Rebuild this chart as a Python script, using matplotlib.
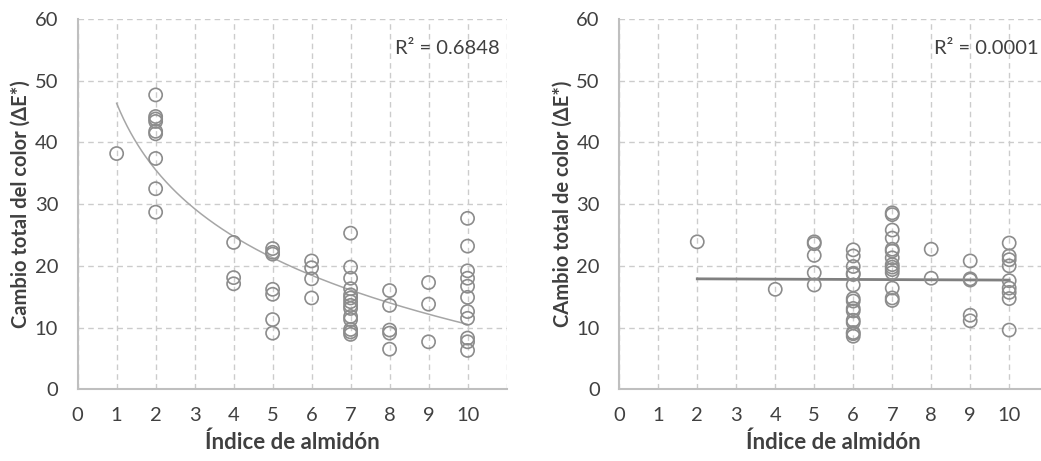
import numpy as np
import matplotlib
matplotlib.use("Agg")
import matplotlib.pyplot as plt

plt.rcParams['font.family'] = ['Lato', 'DejaVu Sans']

# panel 1: starch index vs total colour change
x_left = [1,
          2, 2, 2, 2, 2, 2, 2, 2, 2,
          4, 4, 4,
          5, 5, 5, 5, 5, 5, 5,
          6, 6, 6, 6,
          7, 7, 7, 7, 7, 7, 7, 7, 7, 7, 7, 7, 7, 7,
          8, 8, 8, 8, 8,
          9, 9, 9,
          10, 10, 10, 10, 10, 10, 10, 10, 10, 10, 10]
y_left = [38.2,
          47.7, 44.2, 43.8, 43.4, 41.8, 41.4, 37.4, 32.5, 28.7,
          23.8, 18.1, 17.1,
          22.8, 22.2, 21.9, 16.2, 15.4, 11.3, 9.1,
          20.8, 19.7, 17.9, 14.8,
          25.3, 19.8, 18.0, 16.3, 15.3, 14.8, 14.2, 13.6, 13.1, 11.8, 11.3, 9.7, 9.3, 8.9,
          16.0, 13.6, 9.6, 9.1, 6.5,
          17.3, 13.8, 7.7,
          27.7, 23.2, 19.2, 18.0, 16.7, 14.9, 12.6, 11.5, 8.3, 7.7, 6.3]

# panel 2
x_right = [2,
           4,
           5, 5, 5, 5, 5,
           6, 6, 6, 6, 6, 6, 6, 6, 6, 6, 6, 6, 6, 6, 6,
           7, 7, 7, 7, 7, 7, 7, 7, 7, 7, 7, 7, 7, 7,
           8, 8,
           9, 9, 9, 9, 9,
           10, 10, 10, 10, 10, 10, 10, 10, 10]
y_right = [23.9,
           16.2,
           23.9, 23.6, 21.7, 18.9, 16.9,
           22.6, 21.6, 19.9, 18.8, 18.6, 16.9, 14.7, 14.3, 13.1, 12.7, 11.2, 10.8, 9.2, 9.0, 8.6,
           28.6, 28.3, 25.8, 24.5, 22.7, 22.4, 21.3, 20.2, 19.8, 19.4, 18.9, 16.4, 14.8, 14.4,
           22.7, 18.0,
           20.8, 17.9, 17.7, 12.0, 11.1,
           23.7, 21.6, 21.0, 20.0, 17.6, 16.4, 15.7, 14.7, 9.6]

# linear trend in panel 2 as printed (almost flat, R² ~ 0)
trend_right_x = [2, 10]
trend_right_y = [17.9, 17.7]

ylabel_left = 'Cambio total del color (ΔE*)'
ylabel_right = 'CAmbio total de color (ΔE*)'
xlabel = 'Índice de almidón'
r2_left = 'R² = 0.6848'
r2_right = 'R² = 0.0001'

text_col = '#404040'
marker_col = '#8c8c8c'
grid_col = '#cccccc'

fig = plt.figure(figsize=(10.41, 4.61), dpi=100)


def style_axes(ax, ylabel):
    ax.set_xlim(0, 11)
    ax.set_ylim(0, 60)
    ax.set_xticks(range(0, 12))
    ax.set_xticklabels([str(i) for i in range(0, 11)] + [''])
    ax.set_yticks(range(0, 61, 10))
    ax.grid(True, color=grid_col, linestyle=(0, (4, 3)), linewidth=1)
    ax.set_axisbelow(True)
    for s in ['top', 'right']:
        ax.spines[s].set_visible(False)
    for s in ['left', 'bottom']:
        ax.spines[s].set_color('#bfbfbf')
        ax.spines[s].set_linewidth(1.5)
    ax.tick_params(length=0, labelsize=14.5, labelcolor=text_col)
    ax.tick_params(axis='y', pad=14)
    ax.tick_params(axis='x', pad=13)
    ax.set_xlabel(xlabel, fontsize=16, fontweight='bold', color=text_col, labelpad=5)
    ax.set_ylabel(ylabel, fontsize=14.5, fontweight='bold', color=text_col, labelpad=3)


# left panel with logarithmic trend line
ax1 = fig.add_axes([0.0746, 0.1555, 0.412, 0.8033])
style_axes(ax1, ylabel_left)
ax1.scatter(x_left, y_left, s=90, facecolors='none', edgecolors=marker_col, linewidths=1.2, zorder=3)
a, b = np.polyfit(np.log(x_left), y_left, 1)
xs = np.linspace(1, 10, 200)
ax1.plot(xs, a * np.log(xs) + b, color='#a6a6a6', linewidth=1.1, zorder=2)
ax1.text(10.83, 55.3, r2_left, fontsize=14.5, color=text_col, ha='right', va='center')

# right panel (its right edge runs past the figure like the original)
ax2 = fig.add_axes([0.5949, 0.1555, 0.412, 0.8033])
style_axes(ax2, ylabel_right)
ax2.scatter(x_right, y_right, s=90, facecolors='none', edgecolors=marker_col, linewidths=1.2, zorder=3)
ax2.plot(trend_right_x, trend_right_y, color='#808080', linewidth=2, zorder=2)
ax2.text(10.76, 55.3, r2_right, fontsize=14.5, color=text_col, ha='right', va='center')

fig.savefig('out.png', dpi=100)
